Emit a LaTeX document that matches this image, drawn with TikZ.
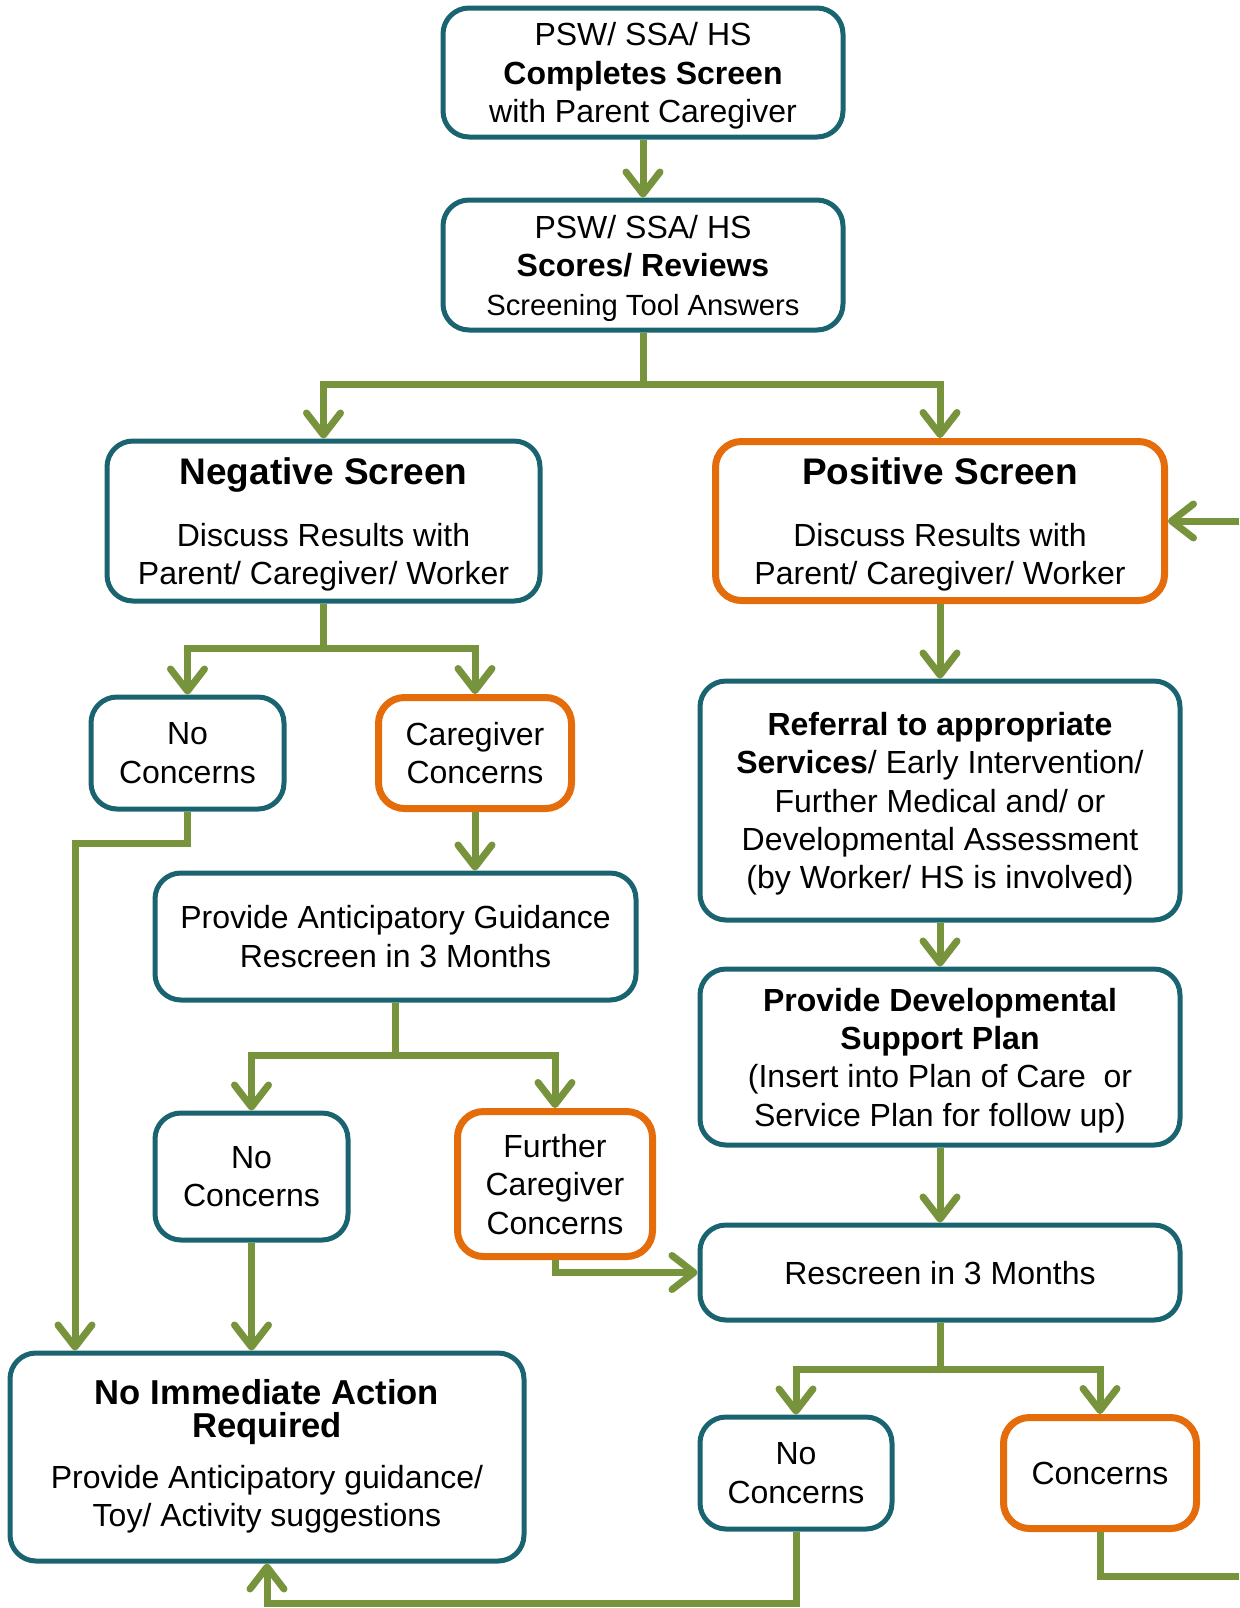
\documentclass[tikz,border=0pt]{standalone}
\usepackage{fontspec}
\setmainfont{Liberation Sans}
\usetikzlibrary{positioning,calc,arrows.meta}
\definecolor{screenteal}{RGB}{26,100,112}
\definecolor{screenorange}{RGB}{228,108,10}
\definecolor{screengreen}{RGB}{119,147,60}

\begin{document}
\begin{tikzpicture}[x=0.5pt,y=-0.5pt,
                    teal node/.style={rectangle,rounded corners=13pt,draw=screenteal,line width=2.5pt,fill=white,
                                      align=center,inner sep=0pt,text depth=0pt,font=\fontsize{16}{19.2}\selectfont},
                    orange node/.style={teal node,draw=screenorange,line width=3.5pt},
                    flow/.style={draw=screengreen,line width=3.5pt},
                    arr/.style={flow,-{Straight Barb[length=11pt,width=17pt,round]}}
                   ]
  \useasboundingbox (0,0) rectangle (1239,1608);

  \node[teal node,minimum width=200pt,minimum height=64.5pt] (complete) at (643,72.5)
    {PSW/ SSA/ HS\\ \textbf{Completes Screen}\\ with Parent Caregiver};
  \node[teal node,minimum width=200pt,minimum height=65pt] (scores) at (643,265)
    {PSW/ SSA/ HS\\ \textbf{Scores/ Reviews}\\ {\fontsize{14.6}{17}\selectfont Screening Tool Answers}};
  \node[teal node,minimum width=216.5pt,minimum height=80pt] (negative) at (323.5,521)
    {{\fontsize{18.5}{22}\selectfont\bfseries Negative Screen}\\[12pt] Discuss Results with\\ Parent/ Caregiver/ Worker};
  \node[orange node,minimum width=224.5pt,minimum height=79.5pt] (positive) at (940,521)
    {{\fontsize{18.5}{22}\selectfont\bfseries Positive Screen}\\[12pt] Discuss Results with\\ Parent/ Caregiver/ Worker};
  \node[teal node,minimum width=96.5pt,minimum height=56pt] (noconcA) at (187.5,753) {No\\ Concerns};
  \node[orange node,minimum width=96.5pt,minimum height=55.5pt] (careconc) at (475,753) {Caregiver\\ Concerns};
  \node[teal node,minimum width=240.5pt,minimum height=63.5pt] (guidance) at (395.5,936.5)
    {Provide Anticipatory Guidance\\ Rescreen in 3 Months};
  \node[teal node,minimum width=240pt,minimum height=119.5pt] (referral) at (940,800.5)
    {\textbf{Referral to appropriate}\\ \textbf{Services}/ Early Intervention/\\ Further Medical and/ or\\
     Developmental Assessment\\ (by Worker/ HS is involved)};
  \node[teal node,minimum width=240pt,minimum height=88pt] (support) at (940,1057)
    {\textbf{Provide Developmental}\\ \textbf{Support Plan}\\ (Insert into Plan of Care~ or\\ Service Plan for follow up)};
  \node[teal node,minimum width=240pt,minimum height=47.5pt] (rescreen) at (940,1272.5) {Rescreen in 3 Months};
  \node[teal node,minimum width=96.5pt,minimum height=63.5pt] (noconcB) at (251.5,1176.5) {No\\ Concerns};
  \node[orange node,minimum width=97.5pt,minimum height=72.5pt] (furtherconc) at (555,1184)
    {Further\\ Caregiver\\ Concerns};
  \node[teal node,text depth=4pt,minimum width=257pt,minimum height=104pt] (noaction) at (267,1457)
    {{\fontsize{17.3}{16.5}\selectfont\bfseries No Immediate Action}\\[-2.5pt]
     {\fontsize{17.3}{16.5}\selectfont\bfseries Required}\\[6pt]
     Provide Anticipatory guidance/\\ Toy/ Activity suggestions};
  \node[teal node,minimum width=96pt,minimum height=56pt] (noconcC) at (796,1473) {No\\ Concerns};
  \node[orange node,minimum width=96.5pt,minimum height=55.5pt] (concerns) at (1100,1473) {Concerns};

  \coordinate (splitA) at (643,384);
  \coordinate (splitB) at (323.5,648);
  \coordinate (splitC) at (395.5,1055);
  \coordinate (splitD) at (940,1369);
  \coordinate (bendA) at (75,843);
  \coordinate (bottomA) at (267,1603);
  \coordinate (edgeA) at (1239,1576);
  \coordinate (edgeB) at (1239,521);

  \draw[arr] (complete) -- (scores);
  \draw[flow] (scores) -- (splitA);
  \draw[arr] (splitA) -| (negative);
  \draw[arr] (splitA) -| (positive);
  \draw[arr] (edgeB) -- (positive);

  \draw[flow] (negative) -- (splitB);
  \draw[arr] (splitB) -| (noconcA);
  \draw[arr] (splitB) -| (careconc);
  \draw[arr] (careconc) -- (careconc |- guidance.north);
  \draw[arr] (noconcA) |- (bendA) -- (bendA |- noaction.north);

  \draw[flow] (guidance.south) -- (splitC);
  \draw[arr] (splitC) -| (noconcB);
  \draw[arr] (splitC) -| (furtherconc);
  \draw[arr] (noconcB) -- (noconcB |- noaction.north);
  \draw[arr] (furtherconc) |- (rescreen);

  \draw[arr] (positive) -- (referral);
  \draw[arr] (referral) -- (support);
  \draw[arr] (support) -- (rescreen);
  \draw[flow] (rescreen) -- (splitD);
  \draw[arr] (splitD) -| (noconcC);
  \draw[arr] (splitD) -| (concerns);
  \draw[arr] (noconcC) |- (bottomA) -- (noaction);
  \draw[flow] (concerns) |- (edgeA);
\end{tikzpicture}
\end{document}
